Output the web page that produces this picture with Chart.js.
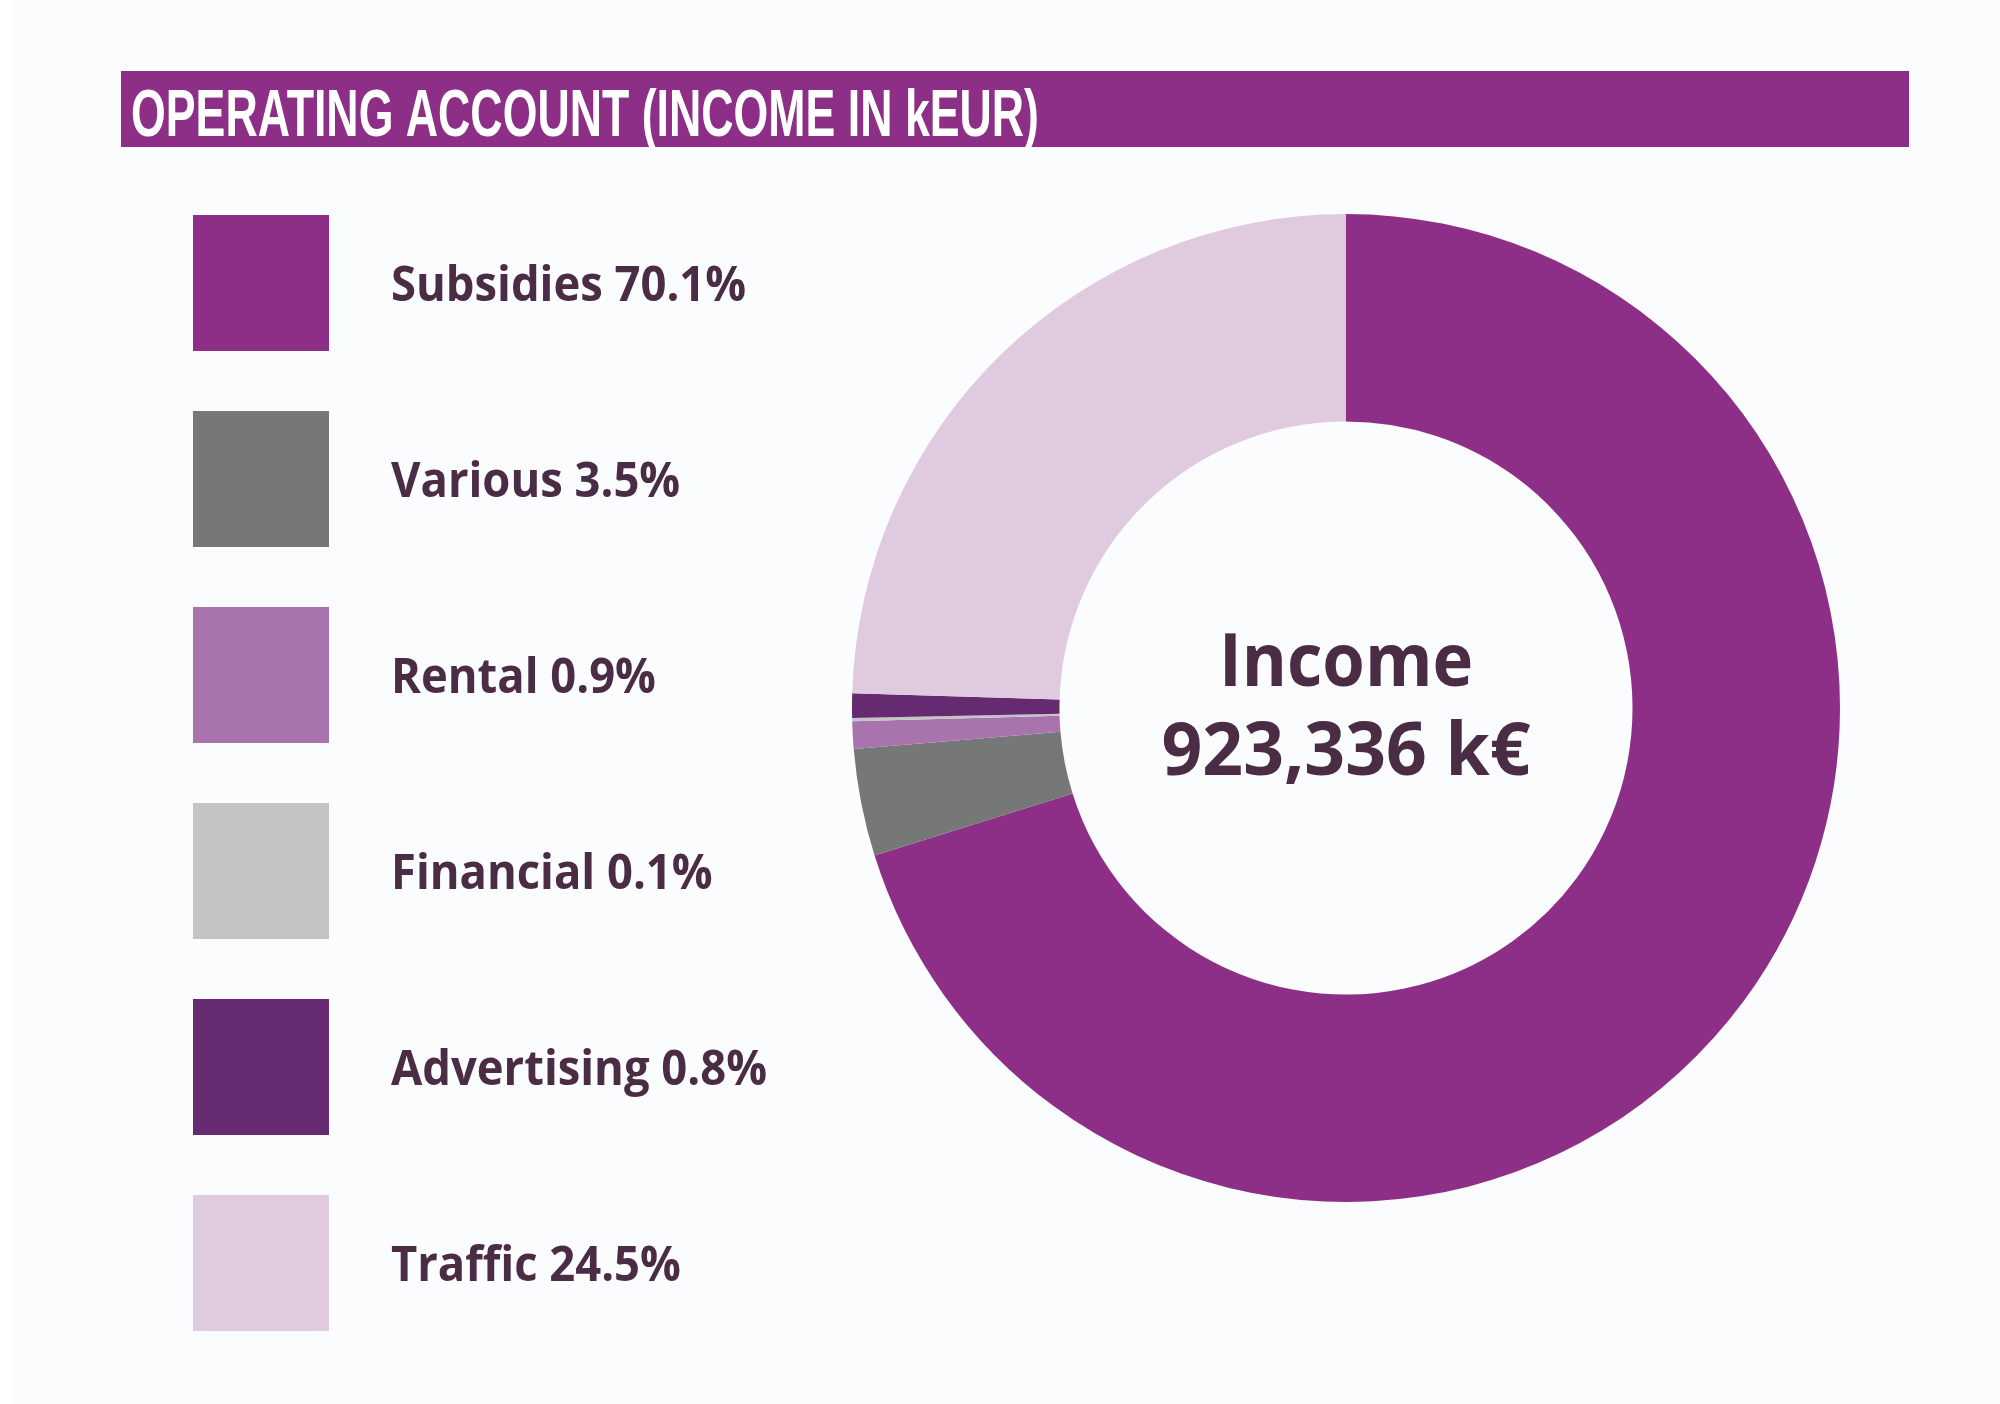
<!DOCTYPE html>
<html>
<head>
<meta charset="utf-8">
<script src="https://cdn.jsdelivr.net/npm/chart.js@4.4.1/dist/chart.umd.min.js"></script>
<style>
  html, body { margin: 0; padding: 0; background: #ffffff; }
  #wrap { position: relative; width: 2000px; height: 1404px; }
  #panel { position: absolute; left: 14px; top: 0; width: 1986px; height: 1404px; background: #fbfcfe; }
  #box { position: absolute; left: 0; top: 0; width: 2000px; height: 1404px; }
</style>
</head>
<body>
<div id="wrap">
  <div id="panel"></div>
  <div id="box"><canvas id="incomeChart"></canvas></div>
</div>
<script>
// Data
const categories = ['Subsidies', 'Various', 'Rental', 'Financial', 'Advertising', 'Traffic'];
const shares = [70.1, 3.5, 0.9, 0.1, 0.8, 24.5];
const colours = ['#8e2f87', '#767777', '#a974ae', '#c4c4c4', '#652a70', '#dfcadf'];
const titleText = 'OPERATING ACCOUNT (INCOME IN kEUR)';
const centerLines = ['Income', '923,336 k€'];

const textColour = '#4a2d45';

// Title bar, legend and centre label drawn on the same canvas
const decorations = {
  id: 'decorations',
  beforeDraw(chart) {
    const ctx = chart.ctx;
    ctx.save();
    // title bar
    ctx.fillStyle = '#8e2f87';
    ctx.fillRect(121, 71, 1788, 76);
    ctx.font = 'bold 66px "Liberation Sans", Arial, sans-serif';
    const w = ctx.measureText(titleText).width;
    ctx.translate(131, 136);
    ctx.scale(908 / w, 1);
    ctx.fillStyle = '#ffffff';
    ctx.textBaseline = 'alphabetic';
    ctx.fillText(titleText, 0, 0);
    ctx.restore();

    // legend
    ctx.save();
    const bg = chart.data.datasets[0].backgroundColor;
    chart.data.labels.forEach((label, i) => {
      const top = 215 + i * 196;
      ctx.fillStyle = bg[i];
      ctx.fillRect(193, top, 136, 136);
      ctx.save();
      ctx.translate(391, top + 86);
      ctx.scale(0.945, 1);
      ctx.font = 'bold 48px "Open Sans", sans-serif';
      ctx.fillStyle = textColour;
      ctx.textBaseline = 'alphabetic';
      ctx.fillText(label + ' ' + chart.data.datasets[0].data[i].toFixed(1) + '%', 0, 0);
      ctx.restore();
    });
    ctx.restore();
  },
  afterDraw(chart) {
    const ctx = chart.ctx;
    const meta = chart.getDatasetMeta(0).data[0];
    const cx = meta.x;
    ctx.save();
    ctx.fillStyle = textColour;
    ctx.textAlign = 'center';
    ctx.textBaseline = 'alphabetic';
    ctx.font = 'bold 74px "Open Sans", sans-serif';
    [[centerLines[0], 686, 0.93], [centerLines[1], 775, 0.965]].forEach(([t, y, sx]) => {
      ctx.save();
      ctx.translate(cx, y);
      ctx.scale(sx, 1);
      ctx.fillText(t, 0, 0);
      ctx.restore();
    });
    ctx.restore();
  }
};

const incomeChart = new Chart(document.getElementById('incomeChart').getContext('2d'), {
  type: 'doughnut',
  data: {
    labels: categories,
    datasets: [{
      data: shares,
      backgroundColor: colours,
      borderWidth: 0,
      hoverOffset: 0
    }]
  },
  options: {
    responsive: true,
    maintainAspectRatio: false,
    animation: false,
    cutout: '58%',
    rotation: 0,
    layout: {
      padding: { left: 852, top: 214, right: 160, bottom: 202 }
    },
    plugins: {
      legend: { display: false },
      tooltip: { enabled: false }
    }
  },
  plugins: [decorations]
});
</script>
</body>
</html>
